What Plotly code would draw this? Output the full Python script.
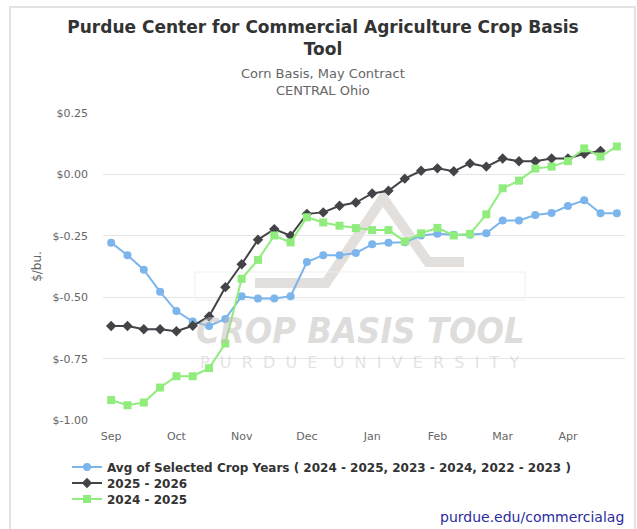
import plotly.graph_objects as go

# ---------------- data ----------------
week_index = list(range(32))
month_tick_index = [0, 4, 8, 12, 16, 20, 24, 28]
month_labels = ["Sep", "Oct", "Nov", "Dec", "Jan", "Feb", "Mar", "Apr"]

y_tick_values = [-1.0, -0.75, -0.5, -0.25, 0.0, 0.25]
y_tick_labels = ["$-1.00", "$-0.75", "$-0.50", "$-0.25", "$0.00", "$0.25"]

avg_selected = [-0.278, -0.329, -0.388, -0.478, -0.556, -0.599, -0.617, -0.588,
                -0.496, -0.505, -0.505, -0.496, -0.357, -0.329, -0.329, -0.320,
                -0.285, -0.278, -0.276, -0.249, -0.242, -0.246, -0.246, -0.240,
                -0.188, -0.188, -0.166, -0.158, -0.129, -0.106, -0.159, -0.159]

crop_2025_2026 = [-0.617, -0.617, -0.630, -0.630, -0.638, -0.616, -0.578, -0.459,
                  -0.366, -0.266, -0.223, -0.250, -0.161, -0.155, -0.128, -0.115,
                  -0.078, -0.067, -0.018, 0.014, 0.024, 0.012, 0.044, 0.031,
                  0.064, 0.053, 0.053, 0.064, 0.064, 0.083, 0.095, None]

crop_2024_2025 = [-0.918, -0.939, -0.928, -0.867, -0.821, -0.821, -0.788, -0.688,
                  -0.425, -0.348, -0.249, -0.277, -0.175, -0.196, -0.209, -0.219,
                  -0.227, -0.227, -0.273, -0.240, -0.218, -0.249, -0.242, -0.163,
                  -0.057, -0.026, 0.023, 0.031, 0.053, 0.105, 0.072, 0.113]

series_names = [
    "Avg of Selected Crop Years ( 2024 - 2025, 2023 - 2024, 2022 - 2023 )",
    "2025 - 2026",
    "2024 - 2025",
]

# ---------------- layout geometry helpers ----------------
W, H = 637, 529
ML, MR, MT, MB = 103, 12, 112, 108
PW, PH = W - ML - MR, H - MT - MB


def px_x(px):
    return (px - ML) / PW


def px_y(py):
    return (H - MB - py) / PH


FONT = "DejaVu Sans, Verdana, sans-serif"

fig = go.Figure()

fig.add_trace(go.Scatter(
    x=week_index, y=avg_selected, name=series_names[0], mode="lines+markers",
    line=dict(color="#7cb5ec", width=2),
    marker=dict(symbol="circle", size=8, color="#7cb5ec"),
    legend="legend2",
))
fig.add_trace(go.Scatter(
    x=week_index, y=crop_2025_2026, name=series_names[1], mode="lines+markers",
    line=dict(color="#434348", width=2),
    marker=dict(symbol="diamond", size=8, color="#434348"),
    legend="legend3",
))
fig.add_trace(go.Scatter(
    x=week_index, y=crop_2024_2025, name=series_names[2], mode="lines+markers",
    line=dict(color="#90ed7d", width=2),
    marker=dict(symbol="square", size=8, color="#90ed7d"),
    legend="legend4",
))

legend_font = dict(family=FONT, size=12, color="#333333", weight="bold")
legend_common = dict(font=legend_font, xanchor="left", yanchor="middle",
                     bgcolor="rgba(0,0,0,0)", itemwidth=30)

shapes = [
    # chart border
    dict(type="rect", xref="paper", yref="paper",
         x0=px_x(10), x1=px_x(635), y0=px_y(545), y1=px_y(7),
         line=dict(color="#e3e3e3", width=2), fillcolor="rgba(0,0,0,0)", layer="below"),
    # watermark logo
    dict(type="path", xref="paper", yref="paper", layer="below",
         path="M {0},{1} L {2},{1} L {3},{4} L {5},{6} L {7},{6}".format(
             px_x(255), px_y(283), px_x(326), px_x(383), px_y(198),
             px_x(428), px_y(262), px_x(464)),
         line=dict(color="#e2dfdc", width=10)),
    dict(type="rect", xref="paper", yref="paper", layer="below",
         x0=px_x(195), x1=px_x(525), y0=px_y(300), y1=px_y(272),
         line=dict(color="#efefef", width=1), fillcolor="rgba(0,0,0,0)"),
]

purdue_univ = "  ".join("PURDUE") + "   " + "  ".join("UNIVERSITY")

annotations = [
    dict(text="Corn Basis, May Contract<br>CENTRAL Ohio", xref="paper", yref="paper",
         x=px_x(323), y=px_y(82.5), xanchor="center", yanchor="middle", showarrow=False,
         font=dict(family=FONT, size=13, color="#666666")),
    dict(text="<b><i>CROP BASIS TOOL</i></b>", xref="paper", yref="paper",
         x=px_x(360), y=px_y(330), xanchor="center", yanchor="middle", showarrow=False,
         font=dict(family="DejaVu Sans Condensed, DejaVu Sans", size=36,
                   color="rgba(190,188,186,0.5)")),
    dict(text=purdue_univ, xref="paper", yref="paper",
         x=px_x(360), y=px_y(362), xanchor="center", yanchor="middle", showarrow=False,
         font=dict(family=FONT, size=16, color="rgba(200,200,200,0.5)")),
    dict(text="purdue.edu/commercialag", xref="paper", yref="paper",
         x=px_x(626), y=px_y(517), xanchor="right", yanchor="middle", showarrow=False,
         font=dict(family=FONT, size=14, color="#2b2ba0")),
]

fig.update_layout(
    width=W, height=H,
    margin=dict(l=ML, r=MR, t=MT, b=MB, autoexpand=False),
    paper_bgcolor="white", plot_bgcolor="white",
    title=dict(text="Purdue Center for Commercial Agriculture Crop Basis<br>Tool",
               xref="container", yref="container", x=323 / W, xanchor="center",
               y=1 - 33 / H, yanchor="top",
               font=dict(family=FONT, size=17, color="#333333", weight="bold")),
    xaxis=dict(range=[-0.5, 31.5], tickmode="array", tickvals=month_tick_index,
               ticktext=month_labels, showgrid=False, zeroline=False, showline=False,
               ticks="", ticklabelstandoff=7,
               tickfont=dict(family=FONT, size=11, color="#666666")),
    yaxis=dict(range=[-1.003, 0.253], tickmode="array", tickvals=y_tick_values,
               ticktext=y_tick_labels, showgrid=True, gridcolor="#e6e6e6", gridwidth=1,
               zeroline=False, showline=False, ticks="", ticklabelstandoff=14,
               tickfont=dict(family=FONT, size=11, color="#666666"),
               title=dict(text="$/bu.", standoff=8,
                          font=dict(family=FONT, size=12, color="#666666"))),
    showlegend=True,
    legend2=dict(x=px_x(67), y=px_y(467), **legend_common),
    legend3=dict(x=px_x(67), y=px_y(483), **legend_common),
    legend4=dict(x=px_x(67), y=px_y(499), **legend_common),
    shapes=shapes,
    annotations=annotations,
    hovermode=False,
)

fig.write_html("out.html", config={"displayModeBar": False},
               post_script="document.body.style.margin='0px';")
